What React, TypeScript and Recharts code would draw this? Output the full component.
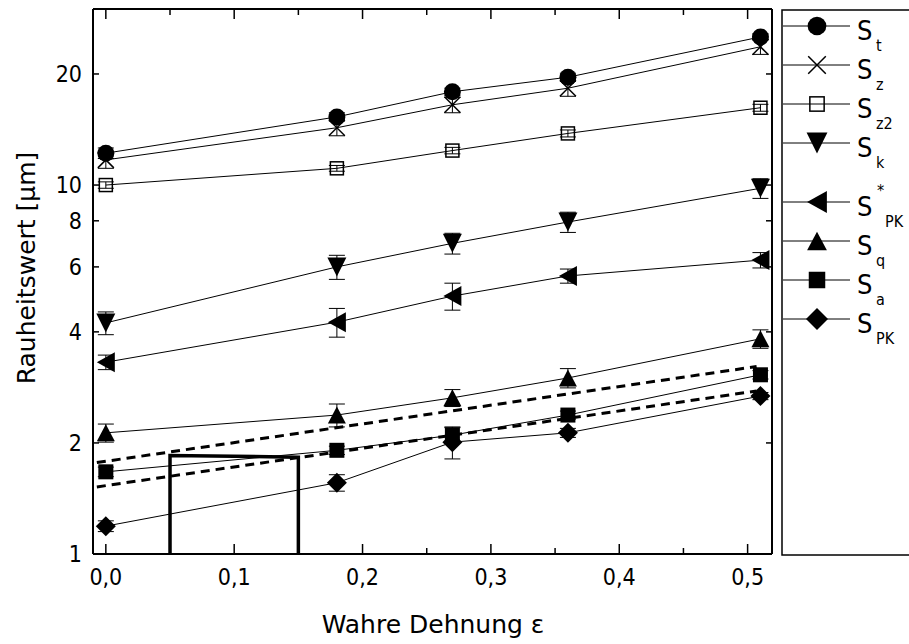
import React from 'react';
import { LineChart, Line, XAxis, YAxis, ErrorBar } from 'recharts';

// ---- data ----
const strain = [0, 0.18, 0.27, 0.36, 0.51];

const St = [12.2, 15.3, 17.9, 19.6, 25.2];
const StErr = [0.4, 0.4, 0.4, 0.5, 0.5];
const Sz = [11.7, 14.3, 16.5, 18.3, 23.7];
const SzErr = [0.6, 0.7, 0.8, 0.9, 1.1];
const Sz2 = [10.0, 11.1, 12.4, 13.8, 16.2];
const Sz2Err = [0.2, 0.2, 0.25, 0.3, 0.35];
const Sk = [4.23, 6.0, 6.95, 7.94, 9.8];
const SkErr = [0.3, 0.45, 0.45, 0.5, 0.6];
const SpkStar = [3.31, 4.25, 5.0, 5.67, 6.26];
const SpkStarErr = [0.15, 0.38, 0.42, 0.25, 0.3];
const Sq = [2.13, 2.38, 2.65, 3.0, 3.83];
const SqErr = [0.12, 0.17, 0.14, 0.18, 0.22];
const Sa = [1.67, 1.91, 2.1, 2.38, 3.06];
const SaErr = [0.05, 0.05, 0.1, 0.06, 0.08];
const Spk = [1.19, 1.56, 2.01, 2.13, 2.68];
const SpkErr = [0.04, 0.08, 0.2, 0.06, 0.06];

const fitUpperX = [-0.007, 0.507];
const fitUpperY = [1.769, 3.222];
const fitLowerX = [-0.007, 0.507];
const fitLowerY = [1.52, 2.766];

const bracketX = [0.05, 0.05, 0.15, 0.15];
const bracketY = [1, 1.85, 1.83, 1];

const xTicks = [0, 0.05, 0.1, 0.15, 0.2, 0.25, 0.3, 0.35, 0.4, 0.45, 0.5];
const xMajorLabels = ['0,0', '0,1', '0,2', '0,3', '0,4', '0,5'];
const yTicks = [1, 2, 4, 6, 8, 10, 20];
const yTickLabels = ['1', '2', '4', '6', '8', '10', '20'];

const seriesNames = ['St', 'Sz', 'Sz2', 'Sk', 'SpkStar', 'Sq', 'Sa', 'Spk'];
const seriesMain = ['S', 'S', 'S', 'S', 'S', 'S', 'S', 'S'];
const seriesSub = ['t', 'z', 'z2', 'k', 'PK', 'q', 'a', 'PK'];
const seriesSup = ['', '', '', '', '*', '', '', ''];
const seriesShape = ['circle', 'cross', 'openSquare', 'downTri', 'leftTri', 'upTri', 'square', 'diamond'];

const seriesValues = [St, Sz, Sz2, Sk, SpkStar, Sq, Sa, Spk];
const seriesErrors = [StErr, SzErr, Sz2Err, SkErr, SpkStarErr, SqErr, SaErr, SpkErr];

const table = strain.map((x, i) => {
  const row: any = { x };
  seriesNames.forEach((n, k) => {
    row[n] = seriesValues[k][i];
    row[n + 'Err'] = seriesErrors[k][i];
  });
  return row;
});
const fitUpper = fitUpperX.map((x, i) => ({ x, y: fitUpperY[i] }));
const fitLower = fitLowerX.map((x, i) => ({ x, y: fitLowerY[i] }));
const bracket = bracketX.map((x, i) => ({ x, y: bracketY[i] }));

const FONT = '"DejaVu Sans Condensed", "DejaVu Sans", sans-serif';
const TITLE_FONT = '"DejaVu Sans", sans-serif';

function Marker({ shape, cx, cy, scale = 1 }: any) {
  const s = scale;
  switch (shape) {
    case 'circle':
      return <circle cx={cx} cy={cy} r={8.5 * s} fill="#000" />;
    case 'cross': {
      const d = 8 * s;
      return (
        <g stroke="#000" strokeWidth={1.5}>
          <line x1={cx - d} y1={cy - d} x2={cx + d} y2={cy + d} />
          <line x1={cx - d} y1={cy + d} x2={cx + d} y2={cy - d} />
        </g>
      );
    }
    case 'openSquare': {
      const h = 6.5 * s;
      return <rect x={cx - h} y={cy - h} width={2 * h} height={2 * h} fill="none" stroke="#000" strokeWidth={1.5} />;
    }
    case 'downTri': {
      const w = 9.5 * s, h = 9.5 * s;
      return <polygon points={`${cx - w},${cy - h} ${cx + w},${cy - h} ${cx},${cy + h}`} fill="#000" />;
    }
    case 'upTri': {
      const w = 9 * s, h = 8.5 * s;
      return <polygon points={`${cx - w},${cy + h} ${cx + w},${cy + h} ${cx},${cy - h}`} fill="#000" />;
    }
    case 'leftTri': {
      const w = 9 * s, h = 10 * s;
      return <polygon points={`${cx + w},${cy - h} ${cx + w},${cy + h} ${cx - w},${cy}`} fill="#000" />;
    }
    case 'square': {
      const h = 7.5 * s;
      return <rect x={cx - h} y={cy - h} width={2 * h} height={2 * h} fill="#000" />;
    }
    case 'diamond': {
      const h = 10 * s;
      return <polygon points={`${cx},${cy - h} ${cx + h},${cy} ${cx},${cy + h} ${cx - h},${cy}`} fill="#000" />;
    }
  }
  return null;
}

const makeDot = (shape: string) => (props: any) => {
  const { cx, cy, index } = props;
  if (cx == null || cy == null) return <g key={`d${index}`} />;
  return (
    <g key={`d${shape}${index}`}>
      <Marker shape={shape} cx={cx} cy={cy} />
    </g>
  );
};

const isMajor = (v: number) => Math.abs(v * 10 - Math.round(v * 10)) < 1e-6;

const BottomTick = (props: any) => {
  const { x, y, payload } = props;
  const v = payload.value;
  const major = isMajor(v);
  const label = major ? xMajorLabels[Math.round(v * 10)] : '';
  return (
    <g>
      <line x1={x} x2={x} y1={y} y2={y - (major ? 10 : 6)} stroke="#000" strokeWidth={1.5} />
      {major && (
        <text x={x} y={y + 31} textAnchor="middle" fontFamily={FONT} fontSize={23} fill="#000">
          {label}
        </text>
      )}
    </g>
  );
};

const TopTick = (props: any) => {
  const { x, y, payload } = props;
  const major = isMajor(payload.value);
  return <line x1={x} x2={x} y1={y} y2={y + (major ? 10 : 6)} stroke="#000" strokeWidth={1.5} />;
};

const LeftTick = (props: any) => {
  const { x, y, payload } = props;
  const idx = yTicks.indexOf(payload.value);
  return (
    <g>
      <line x1={x} x2={x + 6} y1={y} y2={y} stroke="#000" strokeWidth={1.5} />
      <text x={x - 11} y={y + 8} textAnchor="end" fontFamily={FONT} fontSize={23} fill="#000">
        {yTickLabels[idx]}
      </text>
    </g>
  );
};

const RightTick = (props: any) => {
  const { x, y } = props;
  return <line x1={x} x2={x - 6} y1={y} y2={y} stroke="#000" strokeWidth={1.5} />;
};

function LegendBox() {
  const rowY = (i: number) => 26 + i * 39 + (i >= 4 ? 20 : 0);
  return (
    <svg width={909} height={644} style={{ position: 'absolute', left: 0, top: 0, pointerEvents: 'none' }}>
      <rect x={782} y={10} width={140} height={545} fill="none" stroke="#000" strokeWidth={1.5} />
      {seriesNames.map((n, i) => {
        const y = rowY(i);
        const hasSup = seriesSup[i] !== '';
        return (
          <g key={n}>
            <line x1={783} x2={850} y1={y} y2={y} stroke="#000" strokeWidth={1} />
            <Marker shape={seriesShape[i]} cx={817} cy={y} scale={1.1} />
            <text x={857} y={y + 14} fontFamily={FONT} fontSize={27} fill="#000">
              {seriesMain[i]}
            </text>
            {hasSup && (
              <text x={877} y={y - 6} fontFamily={FONT} fontSize={16} fill="#000">
                {seriesSup[i]}
              </text>
            )}
            <text x={hasSup ? 885 : 876} y={y + 25} fontFamily={FONT} fontSize={16} fill="#000">
              {seriesSub[i]}
            </text>
          </g>
        );
      })}
      <text x={433} y={633} textAnchor="middle" fontFamily={TITLE_FONT} fontSize={25} fill="#000">
        Wahre Dehnung ε
      </text>
      <text
        x={0}
        y={0}
        transform="translate(35,268) rotate(-90)"
        textAnchor="middle"
        fontFamily={TITLE_FONT}
        fontSize={25}
        fill="#000"
      >
        Rauheitswert [µm]
      </text>
    </svg>
  );
}

export default function App() {
  return (
    <div style={{ position: 'absolute', left: 0, top: 0, width: 909, height: 644, background: '#fff' }}>
      <LineChart
        width={909}
        height={644}
        margin={{ top: 8, right: 136, bottom: 30, left: 33 }}
        style={{ position: 'absolute', left: 0, top: 0 }}
      >
        <XAxis
          xAxisId="bottom"
          dataKey="x"
          type="number"
          domain={[-0.01, 0.519]}
          allowDataOverflow
          ticks={xTicks}
          interval={0}
          tickSize={0}
          tickMargin={0}
          tickLine={false}
          height={60}
          axisLine={{ stroke: '#000', strokeWidth: 2 }}
          tick={<BottomTick />}
        />
        <XAxis
          xAxisId="top"
          orientation="top"
          dataKey="x"
          type="number"
          domain={[-0.01, 0.519]}
          allowDataOverflow
          ticks={xTicks}
          interval={0}
          tickSize={0}
          tickMargin={0}
          tickLine={false}
          height={1}
          axisLine={{ stroke: '#000', strokeWidth: 2 }}
          tick={<TopTick />}
        />
        <YAxis
          yAxisId="left"
          type="number"
          scale="log"
          domain={[1, 30]}
          allowDataOverflow
          ticks={yTicks}
          interval={0}
          tickSize={0}
          tickMargin={0}
          tickLine={false}
          width={60}
          axisLine={{ stroke: '#000', strokeWidth: 2 }}
          tick={<LeftTick />}
        />
        <YAxis
          yAxisId="right"
          orientation="right"
          type="number"
          scale="log"
          domain={[1, 30]}
          allowDataOverflow
          ticks={yTicks}
          interval={0}
          tickSize={0}
          tickMargin={0}
          tickLine={false}
          width={1}
          axisLine={{ stroke: '#000', strokeWidth: 2 }}
          tick={<RightTick />}
        />

        <Line
          xAxisId="bottom"
          yAxisId="left"
          data={bracket}
          dataKey="y"
          stroke="#000"
          strokeWidth={3.5}
          dot={false}
          activeDot={false}
          isAnimationActive={false}
          type="linear"
        />
        <Line
          xAxisId="bottom"
          yAxisId="left"
          data={fitUpper}
          dataKey="y"
          stroke="#000"
          strokeWidth={3}
          strokeDasharray="9 6"
          dot={false}
          activeDot={false}
          isAnimationActive={false}
          type="linear"
        />
        <Line
          xAxisId="bottom"
          yAxisId="left"
          data={fitLower}
          dataKey="y"
          stroke="#000"
          strokeWidth={3}
          strokeDasharray="9 6"
          dot={false}
          activeDot={false}
          isAnimationActive={false}
          type="linear"
        />

        {seriesNames.map((n, k) => (
          <Line
            key={n}
            xAxisId="bottom"
            yAxisId="left"
            data={table}
            dataKey={n}
            stroke="#000"
            strokeWidth={1}
            dot={makeDot(seriesShape[k])}
            activeDot={false}
            isAnimationActive={false}
            type="linear"
          >
            <ErrorBar dataKey={n + 'Err'} direction="y" width={8} stroke="#000" strokeWidth={1} />
          </Line>
        ))}
      </LineChart>
      <LegendBox />
    </div>
  );
}
